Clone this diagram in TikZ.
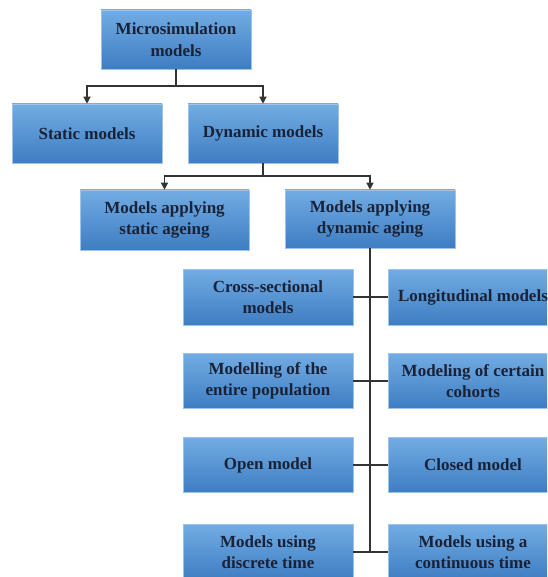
\documentclass[tikz,border=0pt]{standalone}
\usepackage{fontspec}
\setmainfont{Liberation Serif}[BoldFont={Liberation Serif Bold}]
\usetikzlibrary{arrows.meta,positioning}
\definecolor{boxtop}{HTML}{72ACE3}
\definecolor{boxbot}{HTML}{3E7DC2}
\definecolor{boxedge}{HTML}{9CC3EA}
\definecolor{txt}{HTML}{1A2238}
\definecolor{ln}{HTML}{333333}
\tikzset{
  box/.style={rectangle, top color=boxtop, bottom color=boxbot, draw=boxedge, line width=0.6pt,
    minimum width=#1, align=center, inner sep=0pt, text=txt,
    font=\fontsize{17}{21.5}\selectfont\bfseries},
  box/.default=150pt,
  conn/.style={draw=ln, line width=1.4pt},
  arr/.style={conn, -{Triangle[width=7pt,length=7pt]}},
}
\begin{document}
\begin{tikzpicture}[x=1pt,y=-1pt]
\useasboundingbox (0,0) rectangle (547,577);
\clip (0,0) rectangle (547,577);
\node[box=150pt, minimum height=59pt] (top) at (176,39.5) {Microsimulation\\models};
\node[box=150pt, minimum height=59pt] (static) at (87,133.5) {Static models};
\node[box=150pt, minimum height=59pt] (dyn) at (263,133.5) {Dynamic models};
\node[box=169pt, minimum height=60pt] (sage) at (164.5,220) {Models applying\\static ageing};
\node[box=170pt, minimum height=58pt] (dage) at (370,219) {Models applying\\dynamic aging};
\node[box=170pt, minimum height=56pt] (l1) at (268,297) {Cross-sectional\\models};
\node[box=170pt, minimum height=56pt] (r1) at (473,297) {Longitudinal models};
\node[box=170pt, minimum height=55pt] (l2) at (268,381) {Modelling of the\\entire population};
\node[box=170pt, minimum height=55pt] (r2) at (473,381) {Modeling of certain\\cohorts};
\node[box=170pt, minimum height=55pt] (l3) at (268,465) {Open model};
\node[box=170pt, minimum height=55pt] (r3) at (473,465) {Closed model};
\node[box=170pt, minimum height=56pt] (l4) at (268,552) {Models using\\discrete time};
\node[box=170pt, minimum height=56pt] (r4) at (473,552) {Models using a\\continuous time};
\coordinate (j1) at (176,86);
\coordinate (j2) at (263,176);
\coordinate (bot) at (370,552);
\draw[conn] (top.south) -- (j1);
\draw[arr] (j1) -| (static.north);
\draw[arr] (j1) -| (dyn.north);
\draw[conn] (dyn.south) -- (j2);
\draw[arr] (j2) -| (sage.north);
\draw[arr] (j2) -| (dage.north);
\draw[conn] (dage.south) -- (bot);
\draw[conn] (l1.east) -- (r1.west);
\draw[conn] (l2.east) -- (r2.west);
\draw[conn] (l3.east) -- (r3.west);
\draw[conn] (l4.east) -- (r4.west);
\end{tikzpicture}
\end{document}
